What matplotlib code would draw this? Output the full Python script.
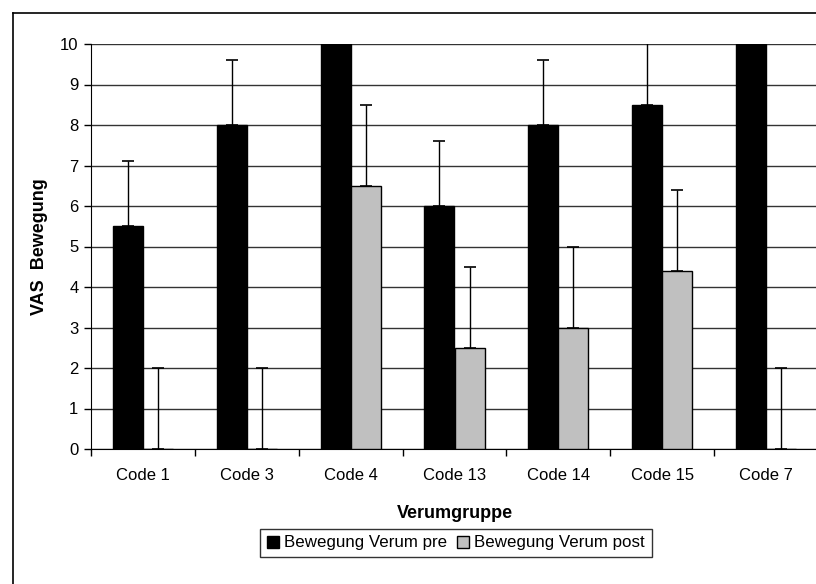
import matplotlib.pyplot as plt
import numpy as np
from matplotlib.lines import Line2D

codes = ['Code 1', 'Code 3', 'Code 4', 'Code 13', 'Code 14', 'Code 15', 'Code 7']
pre = [5.5, 8, 10, 6, 8, 8.5, 10]
post = [0, 0, 6.5, 2.5, 3, 4.4, 0]
pre_err = [1.6, 1.6, 1.6, 1.6, 1.6, 1.6, 1.6]
post_err = [2, 2, 2, 2, 2, 2, 2]
y_ticks = list(range(0, 11))

plt.rcParams['font.family'] = ['Liberation Sans', 'DejaVu Sans']

fig = plt.figure(figsize=(8.16, 5.84), dpi=100)
ax = fig.add_axes([91 / 816, 1 - 449 / 584, 727 / 816, 405 / 584])

x = np.arange(len(codes))
w = 0.29
zeros = np.zeros(len(codes))

ax.bar(x - w / 2, pre, w, color='black', edgecolor='black', linewidth=1, zorder=3,
       label='Bewegung Verum pre')
ax.bar(x + w / 2, post, w, color='#c0c0c0', edgecolor='black', linewidth=1, zorder=3,
       label='Bewegung Verum post')
ax.errorbar(x - w / 2, pre, yerr=[zeros, pre_err], fmt='none', ecolor='black',
            elinewidth=1, capsize=4.5, capthick=1.2, zorder=4)
ax.errorbar(x + w / 2, post, yerr=[zeros, post_err], fmt='none', ecolor='black',
            elinewidth=1, capsize=4.5, capthick=1.2, zorder=4)

ax.set_xlim(-0.5, len(codes) - 0.5)
ax.set_ylim(0, 10)
ax.set_yticks(y_ticks)
ax.yaxis.grid(True, color='#333333', linewidth=1)
ax.set_axisbelow(True)

# x labels in the middle, tick marks at the group boundaries
ax.set_xticks(x)
ax.set_xticklabels(codes, fontsize=12)
ax.tick_params(axis='x', which='major', length=0, pad=14)
ax.set_xticks(np.arange(len(codes) + 1) - 0.5, minor=True)
ax.tick_params(axis='x', which='minor', length=5, width=1, color='black')
ax.tick_params(axis='y', length=5, width=1, labelsize=12, pad=4)

for s in ['top', 'right']:
    ax.spines[s].set_visible(False)
ax.spines['left'].set_color('black')
ax.spines['bottom'].set_color('black')

ax.set_ylabel('VAS  Bewegung', fontsize=13, fontweight='bold', labelpad=9)

fig.text(455 / 816, 1 - 513 / 584, 'Verumgruppe', ha='center', va='center',
         fontsize=13, fontweight='bold')

leg = fig.legend(loc='center', bbox_to_anchor=(456 / 816, 1 - 543 / 584), ncol=2,
                 fontsize=12.2, frameon=True, fancybox=False, edgecolor='black',
                 handlelength=0.7, handleheight=0.7, handletextpad=0.3,
                 columnspacing=0.6, borderpad=0.4)
leg.get_frame().set_linewidth(1)

# outer chart frame (cropped on the right and bottom)
fig.add_artist(Line2D([12.5 / 816, 12.5 / 816], [0, 1 - 13 / 584], color='black', lw=1.2,
                      transform=fig.transFigure))
fig.add_artist(Line2D([12.5 / 816, 1], [1 - 13 / 584, 1 - 13 / 584], color='black', lw=1.2,
                      transform=fig.transFigure))

fig.savefig('out.png', dpi=100)
